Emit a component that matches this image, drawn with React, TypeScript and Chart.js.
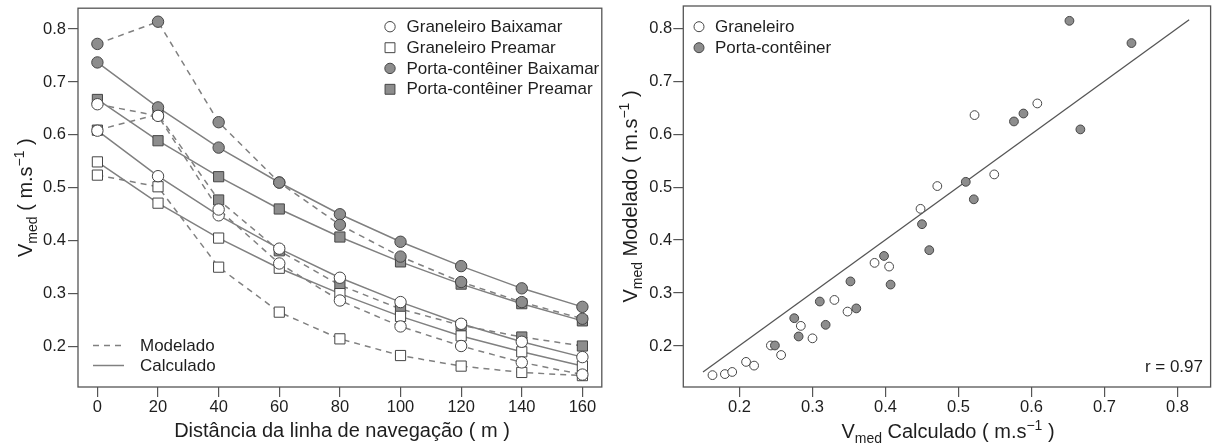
import React, { useEffect, useRef } from "react";
import { Chart, registerables } from "chart.js";

Chart.register(...registerables);

// ---------------- data ----------------
const distances = [0, 20, 40, 60, 80, 100, 120, 140, 160];

const graneleiroBaixamarCalc = [0.608, 0.522, 0.448, 0.385, 0.33, 0.284, 0.243, 0.209, 0.18];
const graneleiroBaixamarMod = [0.658, 0.636, 0.459, 0.357, 0.287, 0.238, 0.201, 0.17, 0.147];
const graneleiroPreamarCalc = [0.549, 0.471, 0.405, 0.348, 0.3, 0.257, 0.22, 0.19, 0.163];
const graneleiroPreamarMod = [0.524, 0.502, 0.35, 0.265, 0.2145, 0.183, 0.163, 0.151, 0.145];
const portaBaixamarCalc = [0.737, 0.652, 0.576, 0.51, 0.45, 0.398, 0.352, 0.31, 0.275];
const portaBaixamarMod = [0.772, 0.814, 0.624, 0.51, 0.43, 0.37, 0.322, 0.284, 0.2525];
const portaPreamarCalc = [0.667, 0.589, 0.521, 0.46, 0.407, 0.36, 0.318, 0.281, 0.2485];
const portaPreamarMod = [0.609, 0.639, 0.477, 0.381, 0.316, 0.271, 0.24, 0.218, 0.201];

const seriesNames = [
  "Graneleiro Baixamar",
  "Graneleiro Preamar",
  "Porta-contêiner Baixamar",
  "Porta-contêiner Preamar",
];
const vesselNames = ["Graneleiro", "Porta-contêiner"];
const lineTypeNames = ["Modelado", "Calculado"];

const xTicksLeft = [0, 20, 40, 60, 80, 100, 120, 140, 160];
const yTicksLeft = [0.2, 0.3, 0.4, 0.5, 0.6, 0.7, 0.8];
const xTicksRight = [0.2, 0.3, 0.4, 0.5, 0.6, 0.7, 0.8];
const yTicksRight = [0.2, 0.3, 0.4, 0.5, 0.6, 0.7, 0.8];

const fitLineX = [0.15, 0.816];
const fitLineY = [0.151, 0.816];
const rLabel = "r = 0.97";

// ---------------- styles ----------------
const FONT = "'Liberation Sans', Arial, Helvetica, sans-serif";
const TEXT = "#1e1e1e";
const AXIS = "#555555";
const EDGE = "#454545";
const FILLED = "#8d8d8d";
const OPEN = "#ffffff";
const LINE = "#808080";
const TICK_SIZE = 16.5;
const LEGEND_SIZE = 17;

type Seg = { t: string; k?: "sub" | "sup" };

function drawRich(ctx: CanvasRenderingContext2D, segs: Seg[], x: number, y: number, rotate: boolean) {
  ctx.save();
  ctx.translate(x, y);
  if (rotate) ctx.rotate(-Math.PI / 2);
  ctx.fillStyle = TEXT;
  ctx.textBaseline = "alphabetic";
  ctx.textAlign = "left";
  const fontOf = (s: Seg) => (s.k ? `14px ${FONT}` : `20px ${FONT}`);
  let total = 0;
  for (const s of segs) {
    ctx.font = fontOf(s);
    total += ctx.measureText(s.t).width;
  }
  let cx = -total / 2;
  for (const s of segs) {
    ctx.font = fontOf(s);
    const dy = s.k === "sub" ? 5 : s.k === "sup" ? -8 : 0;
    ctx.fillText(s.t, cx, dy);
    cx += ctx.measureText(s.t).width;
  }
  ctx.restore();
}

function drawMarker(ctx: CanvasRenderingContext2D, style: string, fill: string, x: number, y: number, r: number) {
  ctx.save();
  ctx.fillStyle = fill;
  ctx.strokeStyle = EDGE;
  ctx.lineWidth = 1;
  ctx.beginPath();
  if (style === "rect") {
    const h = r * Math.SQRT1_2;
    ctx.rect(x - h, y - h, 2 * h, 2 * h);
  } else {
    ctx.arc(x, y, r, 0, Math.PI * 2);
  }
  ctx.fill();
  ctx.stroke();
  ctx.restore();
}

function boxPlugin(extra: (chart: any, ctx: CanvasRenderingContext2D) => void) {
  return {
    id: "boxAndDecor",
    afterDraw(chart: any) {
      const ctx: CanvasRenderingContext2D = chart.ctx;
      const a = chart.chartArea;
      ctx.save();
      ctx.strokeStyle = AXIS;
      ctx.lineWidth = 1.3;
      ctx.setLineDash([]);
      ctx.strokeRect(a.left, a.top, a.right - a.left, a.bottom - a.top);
      ctx.restore();
      extra(chart, ctx);
    },
  };
}

function makeScale(min: number, max: number, ticks: number[], size: number, horizontal: boolean, pad: number, fmt: (v: number) => string) {
  return {
    type: "linear",
    min,
    max,
    afterBuildTicks: (ax: any) => {
      ax.ticks = ticks.map((v) => ({ value: v }));
    },
    afterFit: (ax: any) => {
      if (horizontal) ax.height = size;
      else ax.width = size;
      ax.paddingLeft = 0;
      ax.paddingRight = 0;
      ax.paddingTop = 0;
      ax.paddingBottom = 0;
    },
    grid: {
      display: true,
      drawOnChartArea: false,
      drawTicks: true,
      tickLength: 10,
      color: AXIS,
      lineWidth: 1.2,
    },
    border: { display: false },
    ticks: {
      color: TEXT,
      font: { family: FONT, size: TICK_SIZE },
      padding: pad,
      maxRotation: 0,
      autoSkip: false,
      callback: (v: any) => fmt(Number(v)),
    },
    title: { display: false },
  };
}

export default function App() {
  const leftRef = useRef<HTMLCanvasElement | null>(null);
  const rightRef = useRef<HTMLCanvasElement | null>(null);

  useEffect(() => {
    document.body.style.margin = "0";
    const series = [
      { name: seriesNames[0], calc: graneleiroBaixamarCalc, mod: graneleiroBaixamarMod, style: "circle", fill: OPEN },
      { name: seriesNames[1], calc: graneleiroPreamarCalc, mod: graneleiroPreamarMod, style: "rect", fill: OPEN },
      { name: seriesNames[2], calc: portaBaixamarCalc, mod: portaBaixamarMod, style: "circle", fill: FILLED },
      { name: seriesNames[3], calc: portaPreamarCalc, mod: portaPreamarMod, style: "rect", fill: FILLED },
    ];

    const toXY = (arr: number[]) => distances.map((d, i) => ({ x: d, y: arr[i] }));

    const pointSets: any[] = [];
    series.forEach((s) => {
      [s.mod, s.calc].forEach((arr) => {
        pointSets.push({
          label: s.name,
          data: toXY(arr),
          showLine: false,
          pointStyle: s.style,
          pointRadius: s.style === "rect" ? 7.2 : 5.7,
          pointBackgroundColor: s.fill,
          pointBorderColor: EDGE,
          pointBorderWidth: 1,
        });
      });
    });
    const lineSets: any[] = [];
    series.forEach((s) => {
      lineSets.push({
        label: s.name + " " + lineTypeNames[0],
        data: toXY(s.mod),
        showLine: true,
        pointRadius: 0,
        borderColor: LINE,
        borderWidth: 1.5,
        borderDash: [6, 5],
        tension: 0,
      });
      lineSets.push({
        label: s.name + " " + lineTypeNames[1],
        data: toXY(s.calc),
        showLine: true,
        pointRadius: 0,
        borderColor: LINE,
        borderWidth: 1.5,
        borderDash: [],
        tension: 0,
      });
    });

    const leftDecor = (chart: any, ctx: CanvasRenderingContext2D) => {
      // legend top-right
      ctx.save();
      ctx.font = `${LEGEND_SIZE}px ${FONT}`;
      ctx.fillStyle = TEXT;
      ctx.textBaseline = "middle";
      ctx.textAlign = "left";
      const rows = [26.7, 47.7, 68.4, 89.3];
      series.forEach((s, i) => {
        drawMarker(ctx, s.style, s.fill, 390, rows[i], s.style === "rect" ? 7 : 5.2);
        ctx.fillStyle = TEXT;
        ctx.fillText(s.name, 406.5, rows[i] + 0.5);
      });
      // legend bottom-left
      const ly = [345.5, 365.5];
      ly.forEach((y, i) => {
        ctx.save();
        ctx.strokeStyle = LINE;
        ctx.lineWidth = 1.5;
        ctx.setLineDash(i === 0 ? [6, 5] : []);
        ctx.beginPath();
        ctx.moveTo(93, y);
        ctx.lineTo(124, y);
        ctx.stroke();
        ctx.restore();
        ctx.fillStyle = TEXT;
        ctx.fillText(lineTypeNames[i], 140, y + 0.5);
      });
      ctx.restore();
      // axis titles
      drawRich(ctx, [{ t: "Distância da linha de navegação ( m )" }], 342, 437, false);
      drawRich(
        ctx,
        [{ t: "V" }, { t: "med", k: "sub" }, { t: " ( m.s" }, { t: "−1", k: "sup" }, { t: " )" }],
        31.5,
        (chart.chartArea.top + chart.chartArea.bottom) / 2,
        true
      );
    };

    const leftChart = new Chart(leftRef.current as HTMLCanvasElement, {
      type: "scatter",
      data: { datasets: [...pointSets, ...lineSets] },
      options: {
        responsive: false,
        animation: false,
        devicePixelRatio: 1,
        events: [],
        layout: { padding: { top: 6, right: 4, left: 0, bottom: 0 } },
        plugins: { legend: { display: false }, tooltip: { enabled: false }, title: { display: false } },
        scales: {
          x: makeScale(-6.4, 166.4, xTicksLeft, 60, true, 1, (v) => String(v)),
          y: makeScale(0.1235, 0.8395, yTicksLeft, 78, false, 2, (v) => v.toFixed(1)),
        },
      } as any,
      plugins: [boxPlugin(leftDecor)],
    } as any);

    // ---- right chart ----
    const graneleiroPairs = [
      ...graneleiroBaixamarCalc.map((c, i) => ({ x: c, y: graneleiroBaixamarMod[i] })),
      ...graneleiroPreamarCalc.map((c, i) => ({ x: c, y: graneleiroPreamarMod[i] })),
    ];
    const portaPairs = [
      ...portaBaixamarCalc.map((c, i) => ({ x: c, y: portaBaixamarMod[i] })),
      ...portaPreamarCalc.map((c, i) => ({ x: c, y: portaPreamarMod[i] })),
    ];

    const rightDecor = (chart: any, ctx: CanvasRenderingContext2D) => {
      ctx.save();
      ctx.font = `${LEGEND_SIZE}px ${FONT}`;
      ctx.textBaseline = "middle";
      ctx.textAlign = "left";
      const rows = [26.7, 47.7];
      const fills = [OPEN, FILLED];
      vesselNames.forEach((n, i) => {
        drawMarker(ctx, "circle", fills[i], 89, rows[i], 5);
        ctx.fillStyle = TEXT;
        ctx.fillText(n, 105, rows[i] + 0.5);
      });
      ctx.textAlign = "right";
      ctx.fillStyle = TEXT;
      ctx.fillText(rLabel, 593, 367);
      ctx.restore();
      drawRich(
        ctx,
        [{ t: "V" }, { t: "med", k: "sub" }, { t: " Calculado ( m.s" }, { t: "−1", k: "sup" }, { t: " )" }],
        338,
        438,
        false
      );
      drawRich(
        ctx,
        [{ t: "V" }, { t: "med", k: "sub" }, { t: " Modelado ( m.s" }, { t: "−1", k: "sup" }, { t: " )" }],
        26.5,
        (chart.chartArea.top + chart.chartArea.bottom) / 2,
        true
      );
    };

    const rightChart = new Chart(rightRef.current as HTMLCanvasElement, {
      type: "scatter",
      data: {
        datasets: [
          {
            label: vesselNames[1],
            data: portaPairs,
            showLine: false,
            pointStyle: "circle",
            pointRadius: 4.4,
            pointBackgroundColor: FILLED,
            pointBorderColor: EDGE,
            pointBorderWidth: 1,
          },
          {
            label: vesselNames[0],
            data: graneleiroPairs,
            showLine: false,
            pointStyle: "circle",
            pointRadius: 4.4,
            pointBackgroundColor: OPEN,
            pointBorderColor: EDGE,
            pointBorderWidth: 1,
          },
          {
            label: "ajuste",
            data: fitLineX.map((x, i) => ({ x, y: fitLineY[i] })),
            showLine: true,
            pointRadius: 0,
            borderColor: "#555555",
            borderWidth: 1.3,
          },
        ],
      },
      options: {
        responsive: false,
        animation: false,
        devicePixelRatio: 1,
        events: [],
        layout: { padding: { top: 6, right: 1, left: 0, bottom: 0 } },
        plugins: { legend: { display: false }, tooltip: { enabled: false }, title: { display: false } },
        scales: {
          x: makeScale(0.123, 0.8454, xTicksRight, 60, true, 1, (v) => v.toFixed(1)),
          y: makeScale(0.1226, 0.842, yTicksRight, 73.3, false, 1, (v) => v.toFixed(1)),
        },
      } as any,
      plugins: [boxPlugin(rightDecor)],
    } as any);

    return () => {
      leftChart.destroy();
      rightChart.destroy();
    };
  }, []);

  return (
    <div
      style={{
        position: "fixed",
        left: 0,
        top: 0,
        width: 1212,
        height: 447,
        overflow: "hidden",
        background: "#ffffff",
      }}
    >
      <canvas
        ref={leftRef}
        width={610}
        height={447}
        style={{ position: "absolute", left: 0, top: 0, width: 610, height: 447 }}
      />
      <canvas
        ref={rightRef}
        width={606}
        height={447}
        style={{ position: "absolute", left: 610, top: 0, width: 606, height: 447 }}
      />
    </div>
  );
}
